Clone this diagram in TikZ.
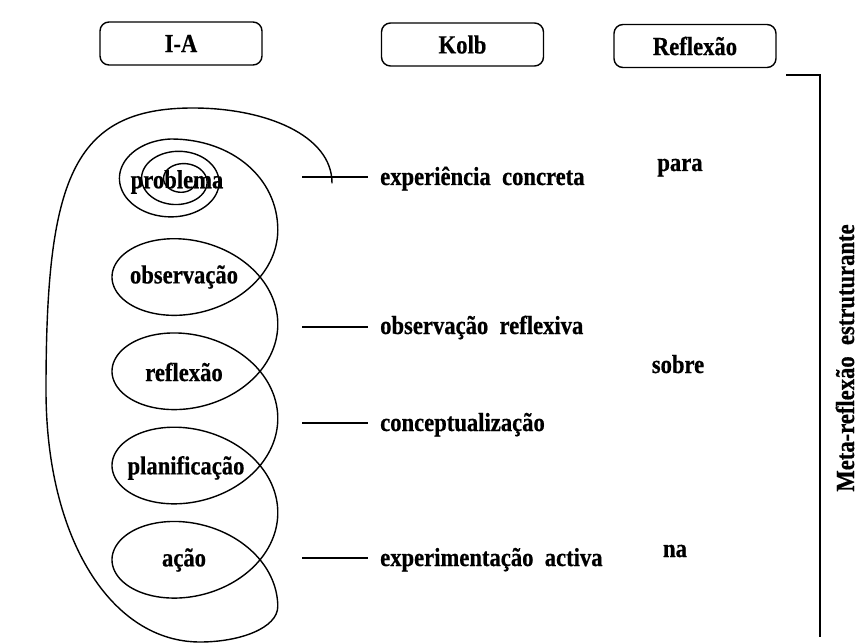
\documentclass[tikz,border=0pt]{standalone}
\usepackage{fontspec}
\newfontface\tb{Liberation Serif Bold}[FakeStretch=0.87, FakeBold=0.6]
\begin{document}
\begin{tikzpicture}[x=1pt,y=-1pt,
  lbl/.style={font=\fontsize{26}{30}\selectfont\tb, inner sep=0pt},
  hdr/.style={draw, line width=1.4pt, rounded corners=9pt, minimum width=162pt, minimum height=43pt, font=\fontsize{26}{30}\selectfont\tb, inner sep=0pt},
  curve/.style={line width=1.4pt, line join=round, line cap=round},
  tick/.style={line width=1.7pt}
]
\useasboundingbox (0,0) rectangle (859,644);
% header boxes
\node[hdr] (ia) at (181,43.5) {I-A};
\node[hdr] (kolb) at (462.5,44.5) {Kolb};
\node[hdr] (refl) at (695,46) {Reflexão};

% loop labels
\node[lbl] (prob) at (177,182) {problema};
\node[lbl] (obs) at (184,277) {observação};
\node[lbl] (ref) at (184,372) {reflexão};
\node[lbl] (plan) at (186,468) {planificação};
\node[lbl] (acao) at (184,560) {ação};

% the coil
\draw[curve]
  plot[domain=0:990, samples=300, variable=\t]
    ({185-14*(\t/990)+(10+47*(\t/990))*cos(\t)}, {181+(8+34*(\t/990))*sin(\t)})
  .. controls (232,139) and (277.8,178) .. (277.8,229.9)
  -- plot[domain=0:25.1327, samples=600, variable=\t]
    ({194.9+82.9*cos(\t r)}, {229.9+60*sin(\t r)+15*\t})
  .. controls (277.8,628) and (240,642) .. (200,642)
  .. controls (112,642) and (46,540) .. (46,390)
  .. controls (46,180) and (72,108) .. (193,108)
  .. controls (265,108) and (332,135) .. (332,183);

% Kolb connectors
\coordinate (k1a) at (302,177); \coordinate (k1b) at (368,177);
\coordinate (k2a) at (302,327); \coordinate (k2b) at (368,327);
\coordinate (k3a) at (302,423); \coordinate (k3b) at (368,423);
\coordinate (k4a) at (302,558); \coordinate (k4b) at (368,558);
\draw[tick] (k1a) -- (k1b);
\draw[tick] (k2a) -- (k2b);
\draw[tick] (k3a) -- (k3b);
\draw[tick] (k4a) -- (k4b);
\node[lbl, anchor=base west] (ec) at (380,185) {experiência~~concreta};
\node[lbl, anchor=base west] (or) at (380,334) {observação~~reflexiva};
\node[lbl, anchor=base west] (co) at (380,431) {conceptualização};
\node[lbl, anchor=base west] (ea) at (380,566) {experimentação~~activa};

% Reflexão column
\node[lbl, anchor=base] (para) at (680,171) {para};
\node[lbl, anchor=base] (sobre) at (678,373) {sobre};
\node[lbl, anchor=base] (na) at (675,557) {na};

% bracket
\coordinate (b0) at (786,75);
\coordinate (b1) at (820,75);
\coordinate (b2) at (820,637);
\draw[tick] (b0) -- (b1) -- (b2);
\node[lbl, rotate=90] (meta) at (845,358) {Meta-reflexão~~estruturante};
\end{tikzpicture}
\end{document}
